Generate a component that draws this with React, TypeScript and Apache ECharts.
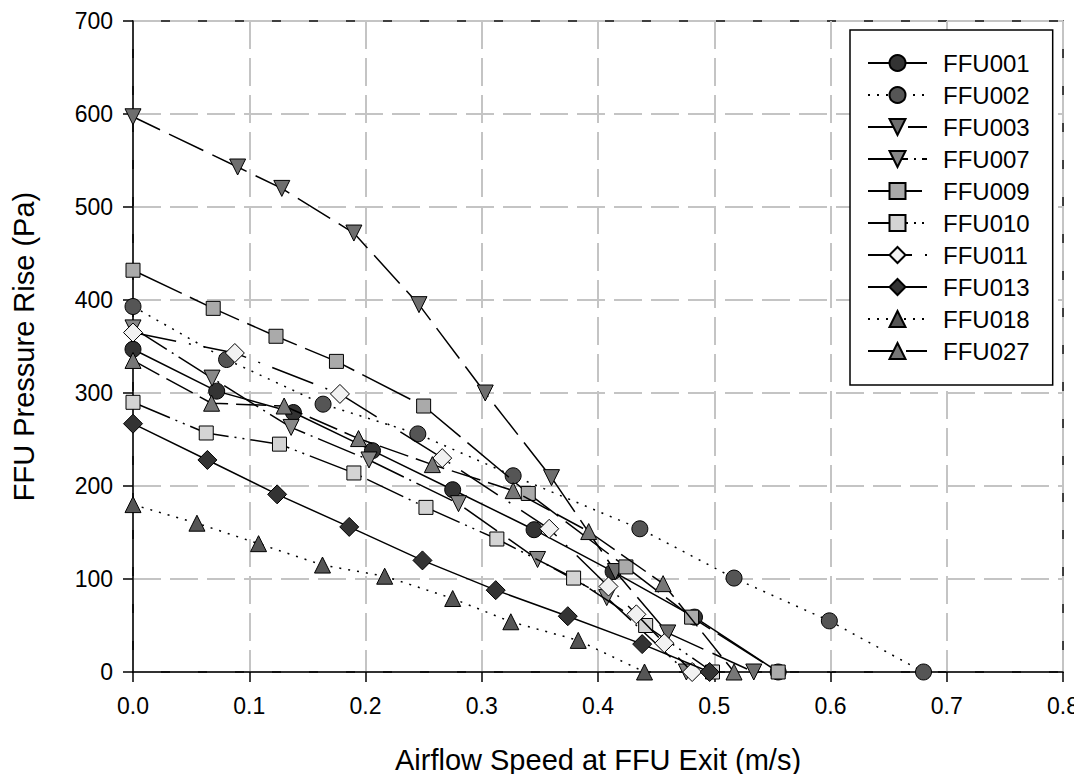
import React, { useEffect, useRef } from "react";
import * as echarts from "echarts";

const xTicks = [0, 0.1, 0.2, 0.3, 0.4, 0.5, 0.6, 0.7, 0.8];
const yTicks = [0, 100, 200, 300, 400, 500, 600, 700];

const ffu001 = [[0, 347], [0.072, 302], [0.138, 279], [0.206, 238], [0.275, 196], [0.345, 153], [0.413, 108], [0.483, 59], [0.555, 0]];
const ffu002 = [[0, 393], [0.0805, 336], [0.1635, 288], [0.245, 256], [0.327, 211], [0.436, 154], [0.517, 101], [0.599, 55], [0.68, 0]];
const ffu003 = [[0, 597], [0.09, 543], [0.128, 520], [0.19, 472], [0.246, 395], [0.303, 300], [0.36, 209], [0.415, 108], [0.46, 42], [0.534, 0]];
const ffu007 = [[0, 370], [0.068, 316], [0.136, 263], [0.203, 228], [0.28, 181], [0.348, 121], [0.4075, 80], [0.476, 0]];
const ffu009 = [[0, 432], [0.069, 391], [0.123, 361], [0.175, 334], [0.25, 286], [0.34, 192], [0.424, 113], [0.4805, 59], [0.555, 0]];
const ffu010 = [[0, 290], [0.063, 257], [0.126, 245], [0.19, 214], [0.252, 177], [0.313, 143], [0.379, 101], [0.441, 50], [0.4985, 0]];
const ffu011 = [[0, 365], [0.0876, 343], [0.178, 299], [0.266, 230], [0.358, 154], [0.409, 92], [0.433, 62], [0.457, 31], [0.481, 0]];
const ffu013 = [[0, 267], [0.064, 228], [0.124, 191], [0.186, 156], [0.249, 120], [0.312, 88], [0.374, 60], [0.438, 30], [0.496, 0]];
const ffu018 = [[0, 180], [0.055, 160], [0.108, 138], [0.163, 115], [0.2165, 103], [0.275, 79], [0.325, 54], [0.383, 34], [0.44, 0]];
const ffu027 = [[0, 335], [0.0676, 289], [0.13, 286], [0.194, 251], [0.2575, 223], [0.327, 195], [0.392, 151], [0.456, 95], [0.517, 0]];

const seriesNames = ["FFU001", "FFU002", "FFU003", "FFU007", "FFU009", "FFU010", "FFU011", "FFU013", "FFU018", "FFU027"];
const seriesData = [ffu001, ffu002, ffu003, ffu007, ffu009, ffu010, ffu011, ffu013, ffu018, ffu027];

const FONT = "'Liberation Sans', Arial, sans-serif";

type Style = { symbol: string; rotate: number; size: number; fill: string; dash: any; offset: number };
const styles: Style[] = [
  { symbol: "circle", rotate: 0, size: 16, fill: "#333333", dash: "solid", offset: 0 },
  { symbol: "circle", rotate: 0, size: 16, fill: "#555555", dash: [2, 7], offset: 0 },
  { symbol: "triangle", rotate: 180, size: 16, fill: "#6e6e6e", dash: [38, 10], offset: 8 },
  { symbol: "triangle", rotate: 180, size: 16, fill: "#888888", dash: [40, 6, 2, 6], offset: 0 },
  { symbol: "rect", rotate: 0, size: 14, fill: "#aaaaaa", dash: [54, 9], offset: 0 },
  { symbol: "rect", rotate: 0, size: 14, fill: "#d4d4d4", dash: [40, 6, 2, 6, 2, 6], offset: 0 },
  { symbol: "diamond", rotate: 0, size: 19, fill: "#f2f2f2", dash: [44, 13, 2, 13], offset: 0 },
  { symbol: "diamond", rotate: 0, size: 19, fill: "#333333", dash: "solid", offset: 0 },
  { symbol: "triangle", rotate: 0, size: 16, fill: "#555555", dash: [2, 7], offset: 0 },
  { symbol: "triangle", rotate: 0, size: 16, fill: "#777777", dash: [30, 8], offset: 0 },
];

export default function App() {
  const ref = useRef<HTMLDivElement>(null);
  useEffect(() => {
    if (!ref.current) return;
    const chart = echarts.init(ref.current, undefined, { renderer: "svg" });
    const gridLine = { show: true, lineStyle: { color: "#c4c4c4", width: 2, type: [28, 9] as any } };
    chart.setOption({
      animation: false,
      backgroundColor: "#ffffff",
      grid: { left: 133, right: 18, top: 21, bottom: 110, show: true, borderColor: "#000", borderWidth: 1.5, backgroundColor: "transparent" },
      legend: {
        orient: "vertical",
        left: 850,
        top: 30,
        data: seriesNames,
        itemWidth: 59,
        itemHeight: 20,
        itemGap: 8,
        padding: [21, 23, 22, 17],
        borderColor: "#000",
        borderWidth: 1.5,
        backgroundColor: "#ffffff",
        textStyle: { fontFamily: FONT, fontSize: 24, color: "#000", lineHeight: 24, padding: [0, 0, 0, 11] },
      },
      xAxis: {
        type: "value",
        min: xTicks[0],
        max: xTicks[xTicks.length - 1],
        interval: 0.1,
        name: "Airflow Speed at FFU Exit (m/s)",
        nameLocation: "middle",
        nameGap: 73,
        nameTextStyle: { fontFamily: FONT, fontSize: 29, color: "#000" },
        axisLine: { show: true, onZero: false, lineStyle: { color: "#000", width: 1.5 } },
        axisTick: { show: true, length: 10, lineStyle: { color: "#000", width: 1.5 } },
        axisLabel: { fontFamily: FONT, fontSize: 23, color: "#000", margin: 22, formatter: (v: number) => v.toFixed(1) },
        splitLine: gridLine,
      },
      yAxis: {
        type: "value",
        min: yTicks[0],
        max: yTicks[yTicks.length - 1],
        interval: 100,
        name: "FFU Pressure Rise (Pa)",
        nameLocation: "middle",
        nameGap: 95,
        nameTextStyle: { fontFamily: FONT, fontSize: 29, color: "#000" },
        axisLine: { show: true, onZero: false, lineStyle: { color: "#000", width: 1.5 } },
        axisTick: { show: true, length: 10, lineStyle: { color: "#000", width: 1.5 } },
        axisLabel: { fontFamily: FONT, fontSize: 23, color: "#000", margin: 20 },
        splitLine: gridLine,
      },
      series: seriesNames.map((name, i) => ({
        name,
        type: "line",
        data: seriesData[i],
        clip: false,
        symbol: styles[i].symbol,
        symbolSize: styles[i].size,
        symbolRotate: styles[i].rotate,
        showAllSymbol: true,
        lineStyle: { color: "#000", width: 1.5, type: styles[i].dash, dashOffset: styles[i].offset },
        itemStyle: { color: styles[i].fill, borderColor: "#000", borderWidth: 1 },
        emphasis: { disabled: true },
        z: 3 + i,
      })),
    });
    return () => chart.dispose();
  }, []);
  return <div ref={ref} style={{ width: 1082, height: 782, margin: -8 }} />;
}
